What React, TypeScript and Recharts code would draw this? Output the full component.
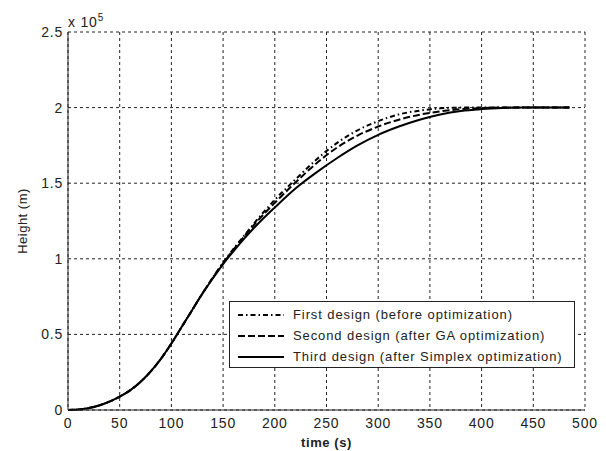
import React from "react";
import {
  CartesianGrid,
  Line,
  LineChart,
  XAxis,
  YAxis,
} from "recharts";

// time in seconds, height in units of 1e5 m
const time = [0, 10, 20, 30, 40, 50, 60, 70, 80, 90, 100, 110, 120, 130, 140, 150, 160, 170, 180, 190, 200, 220, 240, 260, 280, 300, 320, 340, 360, 380, 400, 420, 440, 460, 485];
const firstDesign = [0, 0.003, 0.013, 0.03, 0.055, 0.088, 0.13, 0.185, 0.255, 0.34, 0.44, 0.55, 0.66, 0.77, 0.875, 0.975, 1.065, 1.15, 1.235, 1.315, 1.39, 1.525, 1.655, 1.765, 1.85, 1.91, 1.955, 1.98, 1.995, 2.0, 2.0, 2.0, 2.0, 2.0, 2.0];
const secondDesign = [0, 0.003, 0.013, 0.03, 0.055, 0.088, 0.13, 0.185, 0.255, 0.34, 0.44, 0.55, 0.66, 0.77, 0.875, 0.97, 1.06, 1.145, 1.225, 1.3, 1.37, 1.505, 1.63, 1.735, 1.815, 1.875, 1.92, 1.953, 1.975, 1.99, 1.997, 2.0, 2.0, 2.0, 2.0];
const thirdDesign = [0, 0.003, 0.013, 0.03, 0.055, 0.088, 0.13, 0.185, 0.255, 0.34, 0.44, 0.55, 0.66, 0.77, 0.87, 0.965, 1.05, 1.13, 1.205, 1.275, 1.34, 1.465, 1.57, 1.665, 1.75, 1.82, 1.875, 1.92, 1.955, 1.978, 1.99, 1.997, 2.0, 2.0, 2.0];

const xTicks = [0, 50, 100, 150, 200, 250, 300, 350, 400, 450, 500];
const yTicks = [0, 0.5, 1, 1.5, 2, 2.5];

const seriesInfo = [
  { key: "first", name: "First design (before optimization)", dash: "5 3 1.5 3" },
  { key: "second", name: "Second design (after GA optimization)", dash: "7 3" },
  { key: "third", name: "Third design (after Simplex optimization)", dash: undefined },
];

const rows = time.map((t, i) => ({
  t,
  first: firstDesign[i],
  second: secondDesign[i],
  third: thirdDesign[i],
}));

const FONT = "'Liberation Sans', Arial, sans-serif";
const tickStyle = { fontSize: 14, fill: "#222", fontFamily: FONT, letterSpacing: 0.8 };

function LegendBox() {
  return (
    <div
      style={{
        position: "absolute",
        left: 229,
        top: 301,
        border: "1px solid #222",
        background: "#fff",
        boxSizing: "border-box",
        width: 346,
        height: 67,
        padding: "2px 0 0 8px",
        fontFamily: FONT,
        fontSize: 13,
        letterSpacing: 0.9,
        color: "#222",
        whiteSpace: "nowrap",
      }}
    >
      {seriesInfo.map((s) => (
        <div key={s.key} style={{ display: "flex", alignItems: "center", height: 21 }}>
          <svg width={46} height={10} style={{ marginRight: 9 }}>
            <line x1={0} y1={5} x2={46} y2={5} stroke="#000" strokeWidth={2} strokeDasharray={s.dash} />
          </svg>
          <span>{s.name}</span>
        </div>
      ))}
    </div>
  );
}

export default function App(): React.ReactElement {
  return (
    <div style={{ position: "absolute", left: 0, top: 0, width: 606, height: 451, background: "#fff" }}>
      <LineChart
        width={606}
        height={451}
        data={rows}
        margin={{ top: 32, right: 21, left: 0, bottom: 0 }}
      >
        <CartesianGrid stroke="#222" strokeDasharray="3 3" vertical horizontal />
        <XAxis
          dataKey="t"
          type="number"
          domain={[0, 500]}
          ticks={xTicks}
          height={41}
          tickSize={0}
          tickMargin={8}
          tick={tickStyle}
          axisLine={{ stroke: "#222" }}
          label={{ value: "time (s)", position: "insideBottom", offset: 4, style: { fontSize: 13, fontWeight: "bold", letterSpacing: 0.6, fill: "#222", fontFamily: FONT } }}
        />
        <XAxis xAxisId="top" orientation="top" dataKey="t" type="number" domain={[0, 500]} height={0} tick={false} tickLine={false} axisLine={{ stroke: "#222" }} />
        <YAxis
          type="number"
          domain={[0, 2.5]}
          ticks={yTicks}
          width={68}
          tickSize={0}
          tickMargin={5}
          tick={tickStyle}
          axisLine={{ stroke: "#222" }}
          tickFormatter={(v: number) => String(v)}
          label={{ value: "Height (m)", angle: -90, position: "insideLeft", offset: 22, style: { fontSize: 13, letterSpacing: 0.5, fill: "#222", fontFamily: FONT, textAnchor: "middle" } }}
        />
        <YAxis yAxisId="right" orientation="right" type="number" domain={[0, 2.5]} width={0} tick={false} tickLine={false} axisLine={{ stroke: "#222" }} />
        {seriesInfo.map((s) => (
          <Line
            key={s.key}
            type="monotone"
            dataKey={s.key}
            name={s.name}
            stroke="#000"
            strokeWidth={2}
            strokeDasharray={s.dash}
            dot={false}
            isAnimationActive={false}
          />
        ))}
      </LineChart>
      <LegendBox />
      <div style={{ position: "absolute", left: 68, top: 12, fontFamily: FONT, fontSize: 14, letterSpacing: 0.8, color: "#222" }}>
        x 10<sup style={{ fontSize: 10, verticalAlign: "6px" }}>5</sup>
      </div>
    </div>
  );
}
